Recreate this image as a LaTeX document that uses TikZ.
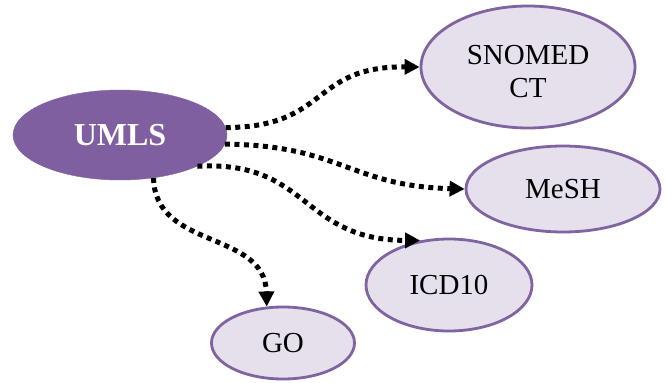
\documentclass[tikz,border=0pt]{standalone}
\usepackage{fontspec}
\setmainfont{Liberation Serif}
\usetikzlibrary{shapes.geometric,arrows.meta}
\definecolor{hubfill}{HTML}{7F5F9F}
\definecolor{leaffill}{HTML}{E5E0EC}
\definecolor{leafedge}{HTML}{8064A2}
\tikzset{
  hub/.style={ellipse, fill=hubfill, draw=hubfill, inner sep=0pt,
    text=white, font=\fontsize{32}{36}\selectfont\bfseries},
  leaf/.style={ellipse, fill=leaffill, draw=leafedge, line width=2.8pt,
    inner sep=0pt, align=center, font=\fontsize{29}{33}\selectfont},
  link/.style={line width=5pt, dash pattern=on 5pt off 4.5pt,
    -{Triangle[length=15pt,width=15pt]}}
}
\begin{document}
\begin{tikzpicture}[x=1pt,y=-1pt]
\useasboundingbox (0,0) rectangle (667,383);
\node[hub, minimum width=214pt, minimum height=90pt] (umls) at (120,135) {UMLS};
\node[leaf, minimum width=214pt, minimum height=122pt] (snomed) at (528,67) {};
\node[font=\fontsize{29}{33}\selectfont, align=center] (snomedtext) at (528,72) {SNOMED\\CT};
\node[leaf, minimum width=194pt, minimum height=86pt] (mesh) at (563,189) {MeSH};
\node[leaf, minimum width=166pt, minimum height=92pt] (icd) at (449,285) {ICD10};
\node[leaf, minimum width=143pt, minimum height=72pt] (go) at (283,343) {GO};

\draw[link] (umls.4.8) .. controls (330,127) and (310,66) .. (snomed.west);
\draw[link] (umls.-5.4) .. controls (340,145) and (350,186) .. (mesh.west);
\draw[link] (umls.-22) .. controls (310,160) and (300,240) .. (icd.123);
\draw[link] (umls.-52) .. controls (155,250) and (265,230) .. (go.114);
\end{tikzpicture}
\end{document}
